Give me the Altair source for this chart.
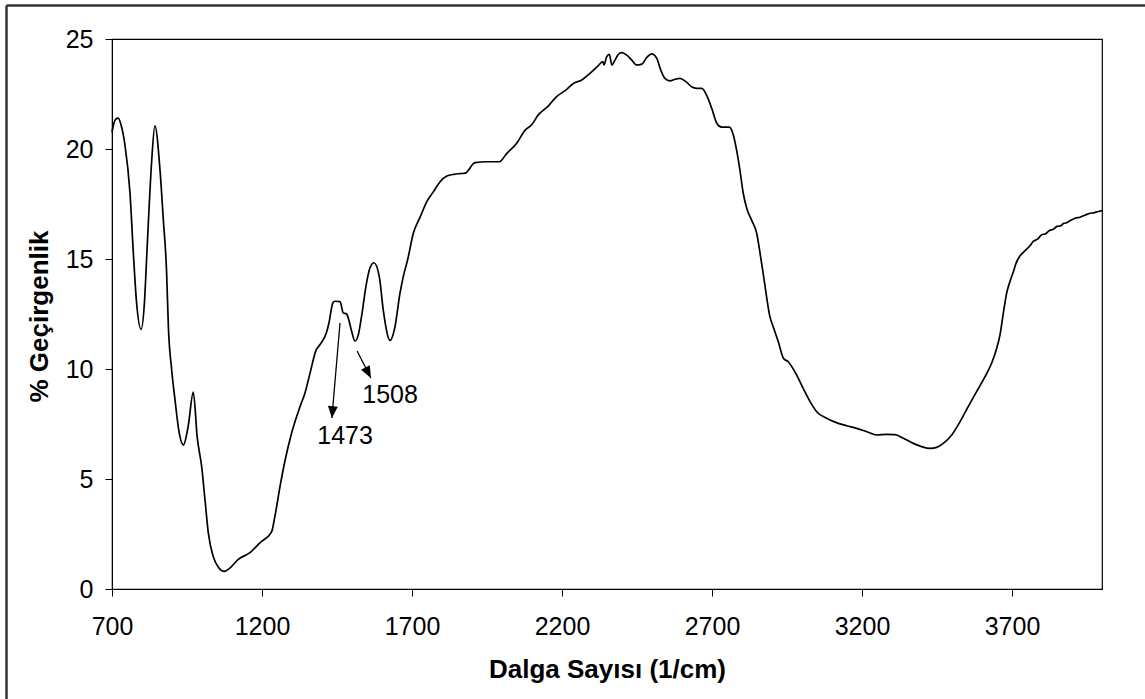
import altair as alt
import pandas as pd

# Spectrum (wavenumber 1/cm, % transmittance)
wavenumber = [
    700, 705, 712, 721, 730, 743, 760, 771, 782, 797,
    808, 816, 821, 832, 843, 860, 871, 882, 888, 899,
    910, 924, 938, 954, 971, 984, 999, 1010, 1021, 1038,
    1054, 1074, 1093, 1121, 1160, 1193, 1232, 1243, 1260, 1277,
    1299, 1327, 1343, 1360, 1380, 1393, 1416, 1424, 1436, 1443,
    1460, 1471, 1482, 1489, 1499, 1510, 1521, 1532, 1547, 1560,
    1573, 1591, 1604, 1627, 1643, 1660, 1671, 1686, 1704, 1727,
    1749, 1771, 1793, 1816, 1840, 1860, 1877, 1910, 1949, 1991,
    2016, 2049, 2077, 2099, 2121, 2154, 2182, 2210, 2238, 2266,
    2293, 2321, 2336, 2340, 2349, 2358, 2366, 2377, 2388, 2399,
    2416, 2432, 2449, 2466, 2482, 2499, 2516, 2529, 2543, 2560,
    2577, 2593, 2613, 2632, 2649, 2666, 2682, 2699, 2716, 2732,
    2758, 2771, 2784, 2793, 2804, 2816, 2832, 2849, 2862, 2873,
    2893, 2904, 2921, 2938, 2954, 2982, 3004, 3027, 3049, 3082,
    3121, 3149, 3182, 3216, 3249, 3282, 3310, 3338, 3371, 3399,
    3427, 3449, 3471, 3499, 3527, 3554, 3582, 3610, 3632, 3649,
    3660, 3671, 3682, 3693, 3704, 3712, 3727, 3738, 3749, 3760,
    3771, 3785, 3799, 3812, 3825, 3838, 3850, 3862, 3872, 3882,
    3895, 3910, 3927, 3945, 3960, 3971, 3985, 4000,
]
transmittance = [
    20.75, 21.1, 21.35, 21.4, 21.1, 20.2, 18.0, 15.3, 13.0, 11.8,
    13.0, 15.2, 16.6, 19.4, 21.05, 19.05, 16.8, 14.4, 11.9, 9.95,
    8.6, 7.1, 6.55, 7.4, 8.95, 6.9, 5.55, 4.05, 2.55, 1.45,
    1.0, 0.8, 0.95, 1.35, 1.65, 2.1, 2.6, 3.3, 4.65, 5.85,
    7.1, 8.3, 8.9, 9.8, 10.85, 11.1, 11.7, 12.15, 13.0, 13.08,
    13.06, 12.55, 12.5, 12.25, 11.7, 11.27, 11.55, 12.4, 13.8, 14.6,
    14.83, 14.2, 12.7, 11.3, 11.9, 13.45, 14.2, 15.0, 16.15, 16.9,
    17.6, 18.05, 18.5, 18.77, 18.85, 18.88, 18.9, 19.38, 19.42, 19.42,
    19.8, 20.26, 20.86, 21.1, 21.55, 21.95, 22.38, 22.65, 22.98, 23.14,
    23.44, 23.79, 23.97, 23.82, 24.2, 24.3, 23.82, 24.05, 24.3, 24.38,
    24.27, 24.05, 23.82, 23.86, 24.15, 24.32, 24.12, 23.59, 23.21, 23.1,
    23.17, 23.21, 23.06, 22.83, 22.76, 22.76, 22.45, 21.85, 21.17, 20.99,
    20.99, 20.64, 19.8, 19.05, 18.0, 17.3, 16.77, 16.17, 15.1, 14.12,
    12.38, 11.92, 11.24, 10.49, 10.33, 9.73, 9.12, 8.52, 8.06, 7.76,
    7.53, 7.42, 7.3, 7.15, 7.0, 7.03, 7.02, 6.85, 6.62, 6.47,
    6.39, 6.44, 6.62, 7.0, 7.61, 8.29, 8.97, 9.65, 10.26, 10.94,
    11.55, 12.53, 13.44, 13.97, 14.4, 14.75, 15.15, 15.3, 15.45, 15.6,
    15.8, 15.9, 16.1, 16.15, 16.3, 16.35, 16.48, 16.5, 16.62, 16.65,
    16.75, 16.85, 16.9, 17.0, 17.08, 17.1, 17.15, 17.2,
]

# Annotations
ann_labels = ["1473", "1508"]
ann_text_x = [1477, 1627]
ann_text_y = [6.95, 8.82]
arrow_x_start = [1460, 1517]
arrow_y_start = [12.09, 10.82]
arrow_x_end = [1433, 1563]
arrow_y_end = [7.77, 9.59]
arrow_angle = [4.8, 332.6]

x_ticks = [700, 1200, 1700, 2200, 2700, 3200, 3700]
y_ticks = [0, 5, 10, 15, 20, 25]

FONT = "Liberation Sans"

spec = pd.DataFrame({"x": wavenumber, "y": transmittance})
ann = pd.DataFrame({"label": ann_labels, "tx": ann_text_x, "ty": ann_text_y,
                    "x0": arrow_x_start, "y0": arrow_y_start,
                    "x1": arrow_x_end, "y1": arrow_y_end, "ang": arrow_angle})

xscale = alt.Scale(domain=[700, 4000], nice=False, zero=False)
yscale = alt.Scale(domain=[0, 25], nice=False)

xaxis = alt.Axis(values=x_ticks, format="d", title="Dalga Sayısı (1/cm)",
                 labelFont=FONT, labelFontSize=25, labelColor="black", labelPadding=18,
                 labelFlush=False,
                 tickColor="black", tickSize=7, domainColor="black", grid=False,
                 titleFont=FONT, titleFontSize=26, titleFontWeight="bold", titleColor="black",
                 titleBaseline="alphabetic", titleY=88)
yaxis = alt.Axis(values=y_ticks, title="% Geçirgenlik",
                 labelFont=FONT, labelFontSize=25, labelColor="black", labelPadding=12,
                 tickColor="black", tickSize=7, domainColor="black", grid=False,
                 titleFont=FONT, titleFontSize=26, titleFontWeight="bold", titleColor="black",
                 titleAngle=270, titleBaseline="alphabetic", titleX=-65, titleY=277,
                 titleAlign="center")

line = alt.Chart(spec).mark_line(color="black", strokeWidth=1.7,
                                 interpolate="monotone").encode(
    x=alt.X("x:Q", scale=xscale, axis=xaxis),
    y=alt.Y("y:Q", scale=yscale, axis=yaxis),
)

arrows = alt.Chart(ann).mark_rule(color="black", strokeWidth=1.3).encode(
    x="x0:Q", y="y0:Q", x2="x1:Q", y2="y1:Q")

heads = alt.Chart(ann).mark_point(shape="M0,0 L-0.42,-1 L0.42,-1 Z", filled=True,
                                  color="black", opacity=1, size=560).encode(
    x="x1:Q", y="y1:Q", angle=alt.Angle("ang:Q", scale=None))

texts = alt.Chart(ann).mark_text(font=FONT, fontSize=25, color="black",
                                 baseline="middle", align="center").encode(
    x="tx:Q", y="ty:Q", text="label:N")

one = pd.DataFrame({"k": [0]})
border_left = alt.Chart(one).mark_rule(color="#333333", strokeWidth=2.5).encode(
    x=alt.value(-105.5), y=alt.value(-33.5), y2=alt.value(670))
border_top = alt.Chart(one).mark_rule(color="#333333", strokeWidth=2.5).encode(
    y=alt.value(-33.5), x=alt.value(-105.5), x2=alt.value(1045))

chart = alt.layer(line, arrows, heads, texts, border_left, border_top).properties(
    width=990, height=550,
    autosize=alt.AutoSizeParams(type="none"),
    padding={"left": 112, "top": 39, "right": 43, "bottom": 110},
    background="white",
).configure_view(stroke="black", strokeWidth=1.2)

chart.save("out.html", embed_options={"renderer": "svg", "actions": False})
